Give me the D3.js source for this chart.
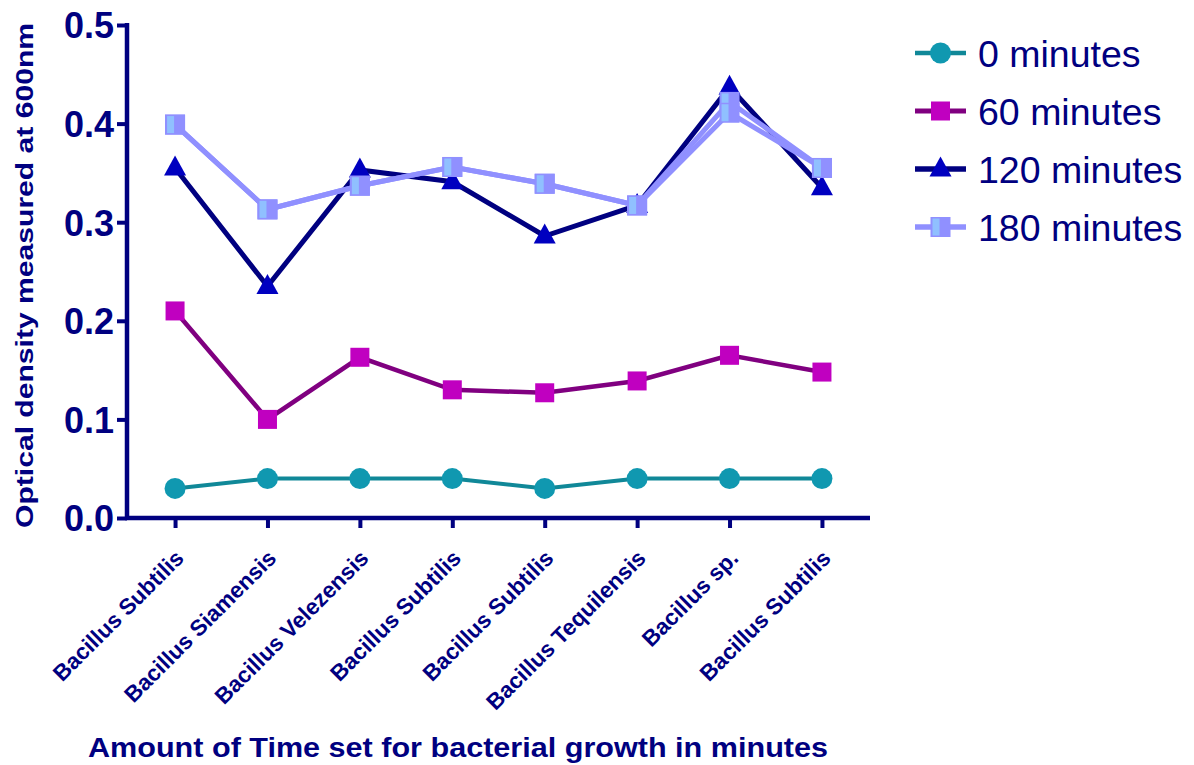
<!DOCTYPE html>
<html>
<head>
<meta charset="utf-8">
<script src="https://cdn.jsdelivr.net/npm/d3@7"></script>
<style>
  html, body { margin: 0; padding: 0; background: #fff; }
  svg { display: block; }
  text { font-family: "Liberation Sans", Arial, sans-serif; fill: #000080; }
</style>
</head>
<body>
<svg id="chart" width="1194" height="765"></svg>
<script>
// Bacterial strains along the x axis
const strains = [
  "Bacillus Subtilis", "Bacillus Siamensis", "Bacillus Velezensis", "Bacillus Subtilis",
  "Bacillus Subtilis", "Bacillus Tequilensis", "Bacillus sp.", "Bacillus Subtilis"
];
// Optical density (600 nm) at each incubation time
const od0   = [0.030, 0.040, 0.040, 0.040, 0.030, 0.040, 0.040, 0.040];
const od60  = [0.210, 0.100, 0.163, 0.130, 0.127, 0.139, 0.165, 0.148];
const od120 = [0.355, 0.235, 0.353, 0.341, 0.286, 0.317, 0.437, 0.335];
const od180 = [0.399, 0.313, 0.337, 0.356, 0.339, 0.317, 0.411, 0.355];
// second 180-minute reading, differs only for Bacillus sp.
const od180b = [0.399, 0.313, 0.337, 0.356, 0.339, 0.317, 0.422, 0.355];
const legendLabels = ["0 minutes", "60 minutes", "120 minutes", "180 minutes"];
const yTicks = [0.0, 0.1, 0.2, 0.3, 0.4, 0.5];

const navy = "#000080";
const svg = d3.select("#chart");
const plotLeft = 127, plotRight = 870, plotTop = 25, plotBottom = 518;

const x = d3.scalePoint().domain(d3.range(strains.length)).range([plotLeft, plotRight]).padding(0.52);
const y = d3.scaleLinear().domain([0, 0.5]).range([plotBottom, plotTop]);

// Axes
const yAxis = svg.append("g").attr("transform", `translate(${plotLeft},0)`)
  .call(d3.axisLeft(y).tickValues(yTicks).tickFormat(d3.format(".1f")).tickSize(10).tickPadding(3));
const xAxis = svg.append("g").attr("transform", `translate(0,${plotBottom})`)
  .call(d3.axisBottom(x).tickFormat(i => strains[i]).tickSize(10).tickPadding(6));

[yAxis, xAxis].forEach(g => {
  g.select(".domain").attr("stroke", navy).attr("stroke-width", 4.5);
  g.selectAll(".tick line").attr("stroke", navy).attr("stroke-width", 4);
});
yAxis.select(".domain").attr("d", `M0,${plotTop - 2}V${plotBottom + 2}`);
xAxis.select(".domain").attr("d", `M${plotLeft - 2},0H${plotRight}`);
yAxis.selectAll(".tick text")
  .attr("fill", navy).style("font-size", "36px").style("font-weight", "bold")
  .attr("dy", "0.36em");
xAxis.selectAll(".tick text")
  .attr("fill", navy).style("font-size", "22.5px").style("font-weight", "bold")
  .attr("text-anchor", "end")
  .attr("transform", "translate(4,36) rotate(-45)")
  .attr("dy", "0.35em").attr("y", 0).attr("x", 0);

// Axis titles
svg.append("text")
  .attr("transform", `translate(33,${(plotTop + plotBottom) / 2 + 4}) rotate(-90)`)
  .attr("text-anchor", "middle")
  .attr("textLength", 505).attr("lengthAdjust", "spacingAndGlyphs")
  .style("font-size", "24px").style("font-weight", "bold")
  .text("Optical density measured at 600nm");
svg.append("text")
  .attr("x", 458).attr("y", 757)
  .attr("text-anchor", "middle")
  .attr("textLength", 740).attr("lengthAdjust", "spacingAndGlyphs")
  .style("font-size", "27px").style("font-weight", "bold")
  .text("Amount of Time set for bacterial growth in minutes");

// Marker painters
function circleMark(g, cx, cy) {
  g.append("circle").attr("cx", cx).attr("cy", cy).attr("r", 10.5).attr("fill", "#1098b0");
}
function magentaSquare(g, cx, cy) {
  g.append("rect").attr("x", cx - 9.5).attr("y", cy - 9.5).attr("width", 19).attr("height", 19).attr("fill", "#c000c0");
}
function triangleMark(g, cx, cy) {
  const h = 20, w = 22;
  g.append("path")
    .attr("d", `M${cx},${cy - h * 0.62}L${cx + w / 2},${cy + h * 0.38}L${cx - w / 2},${cy + h * 0.38}Z`)
    .attr("fill", "#0000c0");
}
function lightSquare(g, cx, cy) {
  g.append("rect").attr("x", cx - 10).attr("y", cy - 10).attr("width", 20).attr("height", 20).attr("fill", "#9090ff");
  g.append("rect").attr("x", cx - 8).attr("y", cy - 8.5).attr("width", 7).attr("height", 17).attr("fill", "#90c0ff");
}

const series = [
  { label: legendLabels[0], values: od0,   line: "#108898", width: 4,   mark: circleMark },
  { label: legendLabels[1], values: od60,  line: "#800080", width: 4.5, mark: magentaSquare },
  { label: legendLabels[2], values: od120, line: "#000080", width: 5,   mark: triangleMark },
  { label: null,            values: od180b, line: "#9090ff", width: 5,  mark: lightSquare },
  { label: legendLabels[3], values: od180, line: "#9090ff", width: 5,   mark: lightSquare }
];

const line = d3.line().x((d, i) => x(i)).y(d => y(d));
const plot = svg.append("g");
series.forEach(s => {
  const g = plot.append("g");
  g.append("path").datum(s.values).attr("d", line)
    .attr("fill", "none").attr("stroke", s.line).attr("stroke-width", s.width)
    .attr("stroke-linejoin", "miter");
  s.values.forEach((v, i) => s.mark(g, x(i), y(v)));
});

// Legend
const legend = svg.append("g");
series.filter(s => s.label).forEach((s, k) => {
  const cy = 53 + k * 58;
  const g = legend.append("g");
  g.append("line").attr("x1", 915).attr("x2", 966).attr("y1", cy).attr("y2", cy)
    .attr("stroke", s.line).attr("stroke-width", s.width + 0.5);
  s.mark(g, 940.5, cy);
  g.append("text").attr("x", 978).attr("y", cy).attr("dy", "0.36em")
    .style("font-size", "37.5px").text(s.label);
});
</script>
</body>
</html>
